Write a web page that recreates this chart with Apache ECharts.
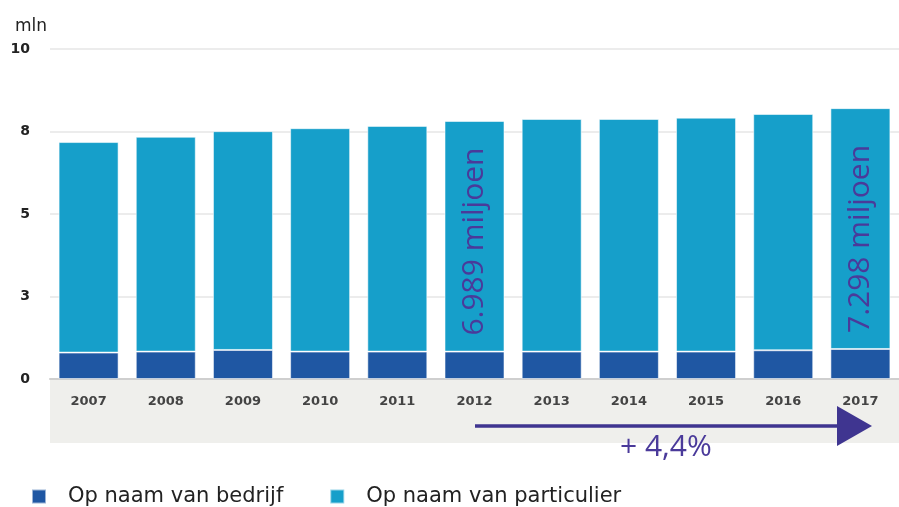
<!DOCTYPE html>
<html>
<head>
<meta charset="utf-8">
<script src="https://cdn.jsdelivr.net/npm/echarts@6/dist/echarts.min.js"></script>
<style>
  html, body { margin: 0; padding: 0; background: #fff; }
  #chart { width: 899px; height: 507px; }
</style>
</head>
<body>
<div id="chart"></div>
<script>
const years = ['2007', '2008', '2009', '2010', '2011', '2012', '2013', '2014', '2015', '2016', '2017'];
// mln voertuigen
const bedrijf = [0.80, 0.83, 0.88, 0.83, 0.83, 0.83, 0.83, 0.83, 0.83, 0.87, 0.91];
const particulier = [6.38, 6.51, 6.63, 6.77, 6.84, 6.989, 7.05, 7.05, 7.09, 7.16, 7.298];
const yTicks = [0, 2.5, 5, 7.5, 10];
const labelYears = ['2012', '2017'];
const growthText = '+ 4,4%';

const PURPLE = '#4a3a9a';
const chart = echarts.init(document.getElementById('chart'));

const partData = particulier.map((v, i) => {
  if (!labelYears.includes(years[i])) return v;
  return {
    value: v,
    label: {
      show: true,
      position: 'insideBottom',
      rotate: 90,
      align: 'left',
      verticalAlign: 'middle',
      distance: 16,
      formatter: (p) => p.value.toFixed(3) + ' miljoen',
      color: PURPLE,
      fontSize: 30,
      fontFamily: 'Open Sans'
    }
  };
});

chart.setOption({
  animation: false,
  textStyle: { fontFamily: 'DejaVu Sans' },
  title: {
    text: 'mln',
    left: 10,
    top: 13,
    textStyle: { fontSize: 17, fontWeight: 'normal', color: '#222' }
  },
  grid: { left: 50, right: -6, top: 49, bottom: 128 },
  legend: {
    left: 26,
    top: 481,
    itemWidth: 14,
    itemHeight: 14,
    itemGap: 46,
    icon: 'rect',
    textStyle: { fontSize: 21, color: '#222', padding: [0, 0, 0, 17] },
    data: ['Op naam van bedrijf', 'Op naam van particulier']
  },
  xAxis: {
    type: 'category',
    data: years,
    axisLine: { lineStyle: { color: '#cfcfcf', width: 2 } },
    axisTick: { alignWithLabel: true, length: 10, lineStyle: { color: '#cccccc' } },
    axisLabel: { color: '#444', fontSize: 13, fontWeight: 'bold', margin: 16 }
  },
  yAxis: {
    type: 'value',
    min: 0,
    max: 10,
    interval: 2.5,
    axisLine: { show: false },
    axisTick: { show: false },
    splitLine: { lineStyle: { color: '#e6e6e6', width: 1.5 } },
    axisLabel: {
      color: '#222',
      fontSize: 14,
      fontWeight: 'bold',
      margin: 20,
      formatter: (v) => yTicks.includes(v) ? String(Math.round(v)) : ''
    }
  },
  graphic: [
    {
      type: 'rect',
      z: -10,
      shape: { x: 50, y: 380, width: 849, height: 63 },
      style: { fill: '#efefec' }
    },
    {
      type: 'line',
      z: 100,
      shape: { x1: 475, y1: 426, x2: 845, y2: 426 },
      style: { stroke: '#3f3590', lineWidth: 3.5 }
    },
    {
      type: 'polygon',
      z: 100,
      shape: { points: [[837, 406], [872, 426], [837, 446]] },
      style: { fill: '#3f3590' }
    },
    {
      type: 'text',
      z: 100,
      left: 620,
      top: 432,
      style: { text: growthText, fill: PURPLE, fontSize: 30, fontFamily: 'Open Sans' }
    }
  ],
  series: [
    {
      name: 'Op naam van bedrijf',
      type: 'bar',
      stack: 'totaal',
      barWidth: 60,
      itemStyle: { color: '#1f57a3', borderColor: 'rgba(255,255,255,0.55)', borderWidth: 1 },
      data: bedrijf
    },
    {
      name: 'Op naam van particulier',
      type: 'bar',
      stack: 'totaal',
      barWidth: 60,
      itemStyle: { color: '#169fca', borderColor: 'rgba(255,255,255,0.55)', borderWidth: 1 },
      data: partData
    }
  ]
});
</script>
</body>
</html>
